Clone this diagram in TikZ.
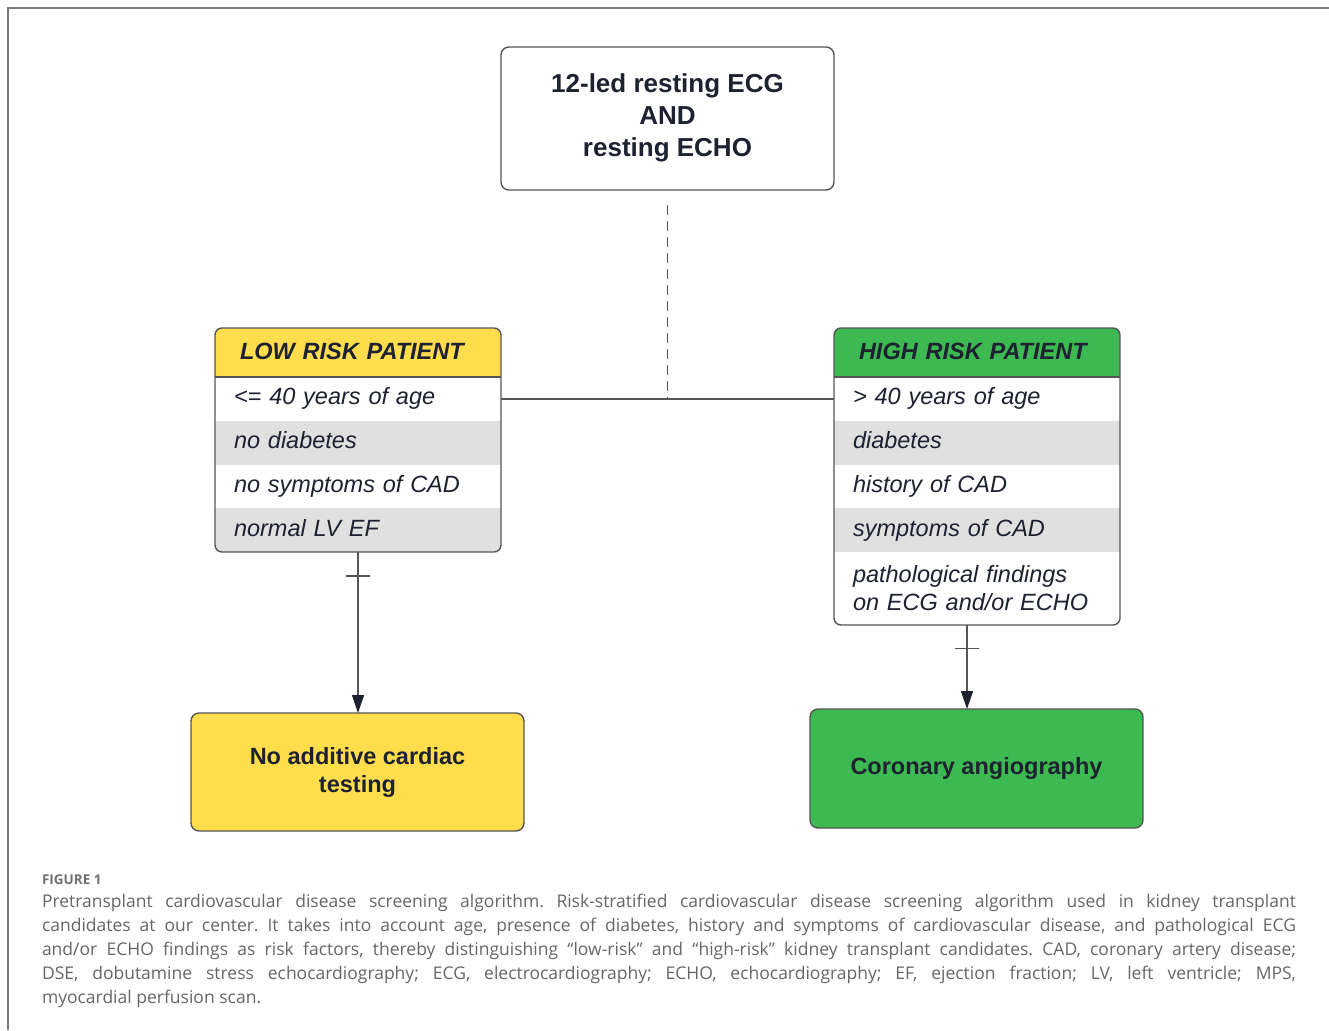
\documentclass[tikz,border=0pt]{standalone}
\usepackage{fontspec}
\setmainfont{Liberation Sans}
\newfontfamily\capfont{Open Sans}
\usetikzlibrary{arrows.meta,calc}
\definecolor{lowY}{HTML}{FFDD4D}
\definecolor{highG}{HTML}{3DB952}
\definecolor{rowG}{HTML}{E0E0E0}
\definecolor{ink}{HTML}{1D2130}
\definecolor{edge}{HTML}{555555}
\definecolor{capgray}{HTML}{666666}
\definecolor{figgray}{HTML}{707070}
\definecolor{framegray}{HTML}{7A7A7A}
\begin{document}
\frenchspacing
\begin{tikzpicture}[x=1pt,y=-1pt,
  every node/.style={inner sep=0pt, outer sep=0pt, text=ink},
  bigbox/.style={draw=edge, line width=1.4pt, rounded corners=8pt, minimum width=333pt, align=center},
  headrow/.style={anchor=north west, minimum width=286pt, minimum height=49pt, text width=236pt, inner xsep=25pt, align=left, text height=17pt, text depth=3pt, font=\fontsize{23.5}{28}\selectfont\bfseries\itshape},
  itemrow/.style={anchor=north west, minimum width=286pt, minimum height=43.75pt, text width=248pt, inner xsep=19pt, align=left, text height=17pt, text depth=5pt, font=\fontsize{23.5}{28}\selectfont\itshape},
  whiterow/.style={itemrow, fill=white},
  grayrow/.style={itemrow, fill=rowG},
  outline/.style={draw=edge, line width=1.4pt, rounded corners=7pt},
  conn/.style={draw=edge, line width=1.4pt},
  tip/.style={-{Triangle[length=18pt,width=12pt,color=ink]}},
  capline/.style={anchor=base west, text=capgray, font=\capfont\fontsize{17.5}{24}\selectfont}
]
\useasboundingbox (0,0) rectangle (1329,1030);
% frame
\draw[framegray, line width=2pt] (7.5,1030) -- (7.5,8.5) -- (1329,8.5);

% top box
\node[bigbox, minimum height=143pt, font=\fontsize{26}{32}\selectfont\bfseries] (top) at (667.5,118.5)
  {12-led resting ECG\\AND\\resting ECHO\rule[-7pt]{0pt}{1pt}};

% low risk table
\begin{scope}
\clip[rounded corners=7pt] (215,328) rectangle (501,552);
\node[headrow, fill=lowY] (lh) at (215,328) {LOW RISK PATIENT};
\node[whiterow] (l1) at (215,377) {<= 40 years of age};
\node[grayrow] (l2) at (215,420.75) {no diabetes};
\node[whiterow] (l3) at (215,464.5) {no symptoms of CAD};
\node[grayrow] (l4) at (215,508.25) {normal LV EF};
\end{scope}
\draw[edge, line width=1.2pt] (lh.south west) -- (lh.south east);
\draw[outline] (lh.north west) rectangle (l4.south east);

% high risk table
\begin{scope}
\clip[rounded corners=7pt] (834,328) rectangle (1120,625);
\node[headrow, fill=highG] (hh) at (834,328) {HIGH RISK PATIENT};
\node[whiterow] (h1) at (834,377) {> 40 years of age};
\node[grayrow] (h2) at (834,420.75) {diabetes};
\node[whiterow] (h3) at (834,464.5) {history of CAD};
\node[grayrow] (h4) at (834,508.25) {symptoms of CAD};
\node[whiterow, minimum height=73pt, text height=, text depth=] (h5) at (834,552) {pathological findings\\on ECG and/or ECHO};
\end{scope}
\draw[edge, line width=1.2pt] (hh.south west) -- (hh.south east);
\draw[outline] (hh.north west) rectangle (h5.south east);

% outcome boxes
\node[bigbox, fill=lowY, minimum height=118pt, font=\fontsize{23.5}{28}\selectfont\bfseries] (nat) at (357.5,772)
  {No additive cardiac\\testing};
\node[bigbox, fill=highG, minimum height=119pt, font=\fontsize{23.5}{28}\selectfont\bfseries] (cor) at (976.5,768.5)
  {Coronary angiography};

% connectors
\coordinate (j) at ($(l1.east)!0.5!(h1.west)$);
\draw[conn] (l1.east) -- (h1.west);
\coordinate (ds) at ($(top.south)+(0,15)$);
\draw[conn, dash pattern=on 10pt off 6pt] (ds) -- (j);

\coordinate (ls) at (l4.south);
\draw[conn, tip] (ls) -- coordinate[pos=0.15] (lt) (ls |- nat.north);
\draw[conn] ($(lt)+(-12,0)$) -- ($(lt)+(12,0)$);

\coordinate (hs) at ($(h5.south)+(-10,0)$);
\draw[conn, tip] (hs) -- coordinate[pos=0.277] (ht) (hs |- cor.north);
\draw[conn] ($(ht)+(-12,0)$) -- ($(ht)+(12,0)$);

% caption
\node[anchor=base west, text=figgray, font=\capfont\bfseries\fontsize{13.5}{17}\selectfont] (fig) at (42,884) {FIGURE 1};
\node[capline] (c1) at (42,907) {\makebox[1254pt][s]{Pretransplant cardiovascular disease screening algorithm. Risk-stratified cardiovascular disease screening algorithm used in kidney transplant}};
\node[capline] (c2) at (42,931) {\makebox[1254pt][s]{candidates at our center. It takes into account age, presence of diabetes, history and symptoms of cardiovascular disease, and pathological ECG}};
\node[capline] (c3) at (42,955) {\makebox[1254pt][s]{and/or ECHO findings as risk factors, thereby distinguishing “low-risk” and “high-risk” kidney transplant candidates. CAD, coronary artery disease;}};
\node[capline] (c4) at (42,979) {\makebox[1254pt][s]{DSE, dobutamine stress echocardiography; ECG, electrocardiography; ECHO, echocardiography; EF, ejection fraction; LV, left ventricle; MPS,}};
\node[capline] (c5) at (42,1003) {myocardial perfusion scan.};
\end{tikzpicture}
\end{document}
